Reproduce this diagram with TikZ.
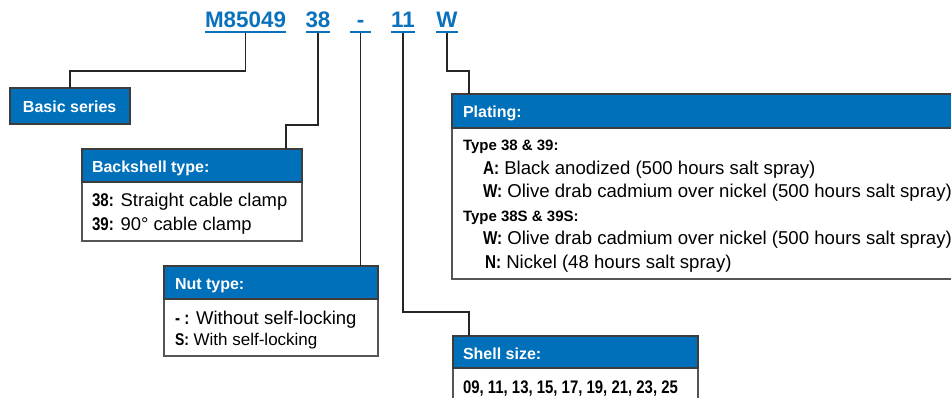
\documentclass[tikz,border=0pt]{standalone}
\usepackage{fontspec}
\setmainfont{Liberation Sans}
\newfontfamily\cb{Liberation Sans}[FakeStretch=0.82]
\definecolor{hblue}{RGB}{0,112,186}
\definecolor{tblue}{RGB}{10,114,188}
\definecolor{bord}{RGB}{60,60,60}
\definecolor{bordl}{RGB}{85,85,85}
\newcommand{\ttl}{\fontsize{22.4}{26}\selectfont\bfseries}
\newcommand{\hd}{\fontsize{16}{19}\selectfont\bfseries}
\newcommand{\bd}{\fontsize{18.4}{21}\selectfont}
\newcommand{\pd}{\fontsize{18.6}{21}\selectfont}
\newcommand{\lb}[1]{{\cb\bfseries #1}}
\begin{document}
\begin{tikzpicture}[x=1pt,y=-1pt,
  txt/.style={anchor=base west, inner sep=0pt, outer sep=0pt},
  ttlnode/.style={anchor=base, inner sep=0pt, outer sep=0pt, text=tblue, font=\ttl},
  uline/.style={draw=tblue, line width=1.4pt},
  hdrbox/.style={draw=bord, line width=1.3pt, fill=hblue, anchor=north west, inner sep=0pt, outer sep=0pt},
  bodybox/.style={draw=bordl, line width=1.3pt, fill=white, anchor=north west, inner sep=0pt, outer sep=0pt},
  conn/.style={draw=black!85, line width=1.2pt}]
\useasboundingbox (0,0) rectangle (951,398);
\clip (0,0) rectangle (951,398);
% title
\node[ttlnode] (t1) at (245.5,28) {M85049};
\node[ttlnode] (t2) at (318,28) {38};
\node[ttlnode, minimum width=21pt] (t3) at (360.5,28) {-};
\node[ttlnode] (t4) at (403,28) {11};
\node[ttlnode] (t5) at (447,28) {W};
\foreach \n in {t1,t2,t3,t4,t5}{
  \draw[uline] ([yshift=-4pt]\n.base west) -- ([yshift=-4pt]\n.base east);
}
% boxes
\node[hdrbox, minimum width=120pt, minimum height=36pt] (basic) at (10,88) {};
\node[txt, text=white, font=\hd] (basict) at (23,112.5) {Basic series};

\node[bodybox, minimum width=220pt, minimum height=59pt] (bsb) at (82,182) {};
\node[hdrbox, minimum width=220pt, minimum height=33pt] (bsh) at (82,149) {};
\node[txt, text=white, font=\hd] (bsht) at (92,172.5) {Backshell type:};
\node[txt, font=\bd] (bs1) at (92,207) {\lb{38:} Straight cable clamp};
\node[txt, font=\bd] (bs2) at (92,231) {\lb{39:} 90° cable clamp};

\node[bodybox, minimum width=214pt, minimum height=57pt] (nutb) at (164,299) {};
\node[hdrbox, minimum width=214pt, minimum height=33pt] (nuth) at (164,266) {};
\node[txt, text=white, font=\hd] (nutht) at (175,289.5) {Nut type:};
\node[txt, font=\fontsize{18.5}{21}\selectfont] (nut1) at (175,324) {\lb{- :} Without self-locking};
\node[txt, font=\fontsize{17}{19}\selectfont] (nut2) at (175,345) {\lb{S:} With self-locking};

\node[bodybox, minimum width=510pt, minimum height=151pt] (plb) at (452,128) {};
\node[hdrbox, minimum width=510pt, minimum height=34pt] (plh) at (452,94) {};
\node[txt, text=white, font=\hd] (plht) at (463,117.5) {Plating:};
\node[txt, font=\fontsize{15}{18}\selectfont\bfseries] (pl1) at (463,151) {Type 38 \& 39:};
\node[txt, font=\pd] (pl2) at (483,174.5) {\lb{A:} Black anodized (500 hours salt spray)};
\node[txt, font=\pd] (pl3) at (483,198) {\lb{W:} Olive drab cadmium over nickel (500 hours salt spray)};
\node[txt, font=\fontsize{15}{18}\selectfont\bfseries] (pl4) at (463,221.5) {Type 38S \& 39S:};
\node[txt, font=\pd] (pl5) at (483,245) {\lb{W:} Olive drab cadmium over nickel (500 hours salt spray)};
\node[txt, font=\pd] (pl6) at (485,268.5) {\lb{N:} Nickel (48 hours salt spray)};

\node[bodybox, minimum width=245pt, minimum height=45pt] (shb) at (453,368) {};
\node[hdrbox, minimum width=245pt, minimum height=32pt] (shh) at (453,336) {};
\node[txt, text=white, font=\hd] (shht) at (463,359.5) {Shell size:};
\node[txt, font=\fontsize{18.2}{21}\selectfont\cb\bfseries] (sh1) at (463,393) {09, 11, 13, 15, 17, 19, 21, 23, 25};

% connectors
\coordinate (k2) at (286,125);
\coordinate (k4) at (469,312);
\coordinate (k5) at (469,71);
\draw[conn] ([yshift=-5pt]t1.base) -- ++(0,38) -| (basic.north);
\draw[conn] ([yshift=-5pt]t2.base) |- (k2) -- (k2 |- bsh.north);
\draw[conn] ([yshift=-5pt]t3.base) -- (t3.base |- nuth.north);
\draw[conn] ([yshift=-5pt]t4.base) |- (k4) -- (k4 |- shh.north);
\draw[conn] ([yshift=-5pt]t5.base) |- (k5) -- (k5 |- plh.north);
\end{tikzpicture}
\end{document}
